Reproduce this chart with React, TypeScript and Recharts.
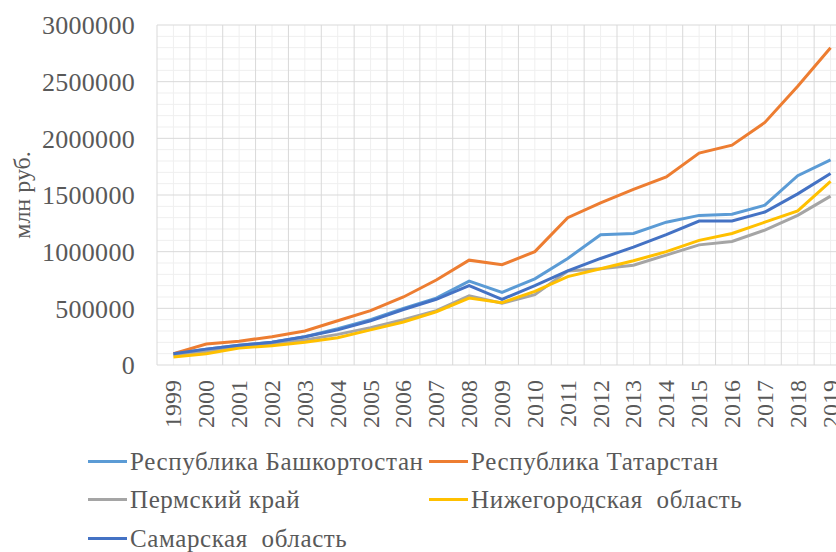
import { LineChart, Line, XAxis, YAxis, CartesianGrid, Legend, Label } from 'recharts';

const years = [1999, 2000, 2001, 2002, 2003, 2004, 2005, 2006, 2007, 2008, 2009, 2010, 2011, 2012, 2013, 2014, 2015, 2016, 2017, 2018, 2019];

const bashkortostan = [100000, 140000, 175000, 200000, 250000, 320000, 400000, 500000, 590000, 740000, 640000, 760000, 940000, 1150000, 1160000, 1260000, 1320000, 1330000, 1410000, 1670000, 1810000];
const tatarstan = [100000, 185000, 210000, 250000, 300000, 390000, 480000, 600000, 750000, 925000, 885000, 1000000, 1300000, 1430000, 1550000, 1660000, 1870000, 1940000, 2140000, 2460000, 2800000];
const perm = [90000, 120000, 160000, 180000, 220000, 270000, 330000, 400000, 480000, 610000, 545000, 620000, 830000, 850000, 880000, 970000, 1060000, 1090000, 1190000, 1320000, 1490000];
const nizhny = [70000, 100000, 150000, 170000, 200000, 240000, 310000, 380000, 470000, 590000, 550000, 650000, 780000, 850000, 920000, 1000000, 1100000, 1160000, 1260000, 1360000, 1620000];
const samara = [100000, 140000, 175000, 200000, 250000, 310000, 390000, 490000, 580000, 700000, 580000, 700000, 830000, 940000, 1040000, 1150000, 1270000, 1270000, 1350000, 1510000, 1690000];

const yTicks = [0, 500000, 1000000, 1500000, 2000000, 2500000, 3000000];

const series = [
  { key: 'bashkortostan', name: 'Республика Башкортостан', color: '#5B9BD5', values: bashkortostan },
  { key: 'tatarstan', name: 'Республика Татарстан', color: '#ED7D31', values: tatarstan },
  { key: 'perm', name: 'Пермский край', color: '#A5A5A5', values: perm },
  { key: 'nizhny', name: 'Нижегородская  область', color: '#FFC000', values: nizhny },
  { key: 'samara', name: 'Самарская  область', color: '#4472C4', values: samara },
];

const data = years.map((year, i) => {
  const row: Record<string, number> = { year };
  series.forEach((s) => {
    row[s.key] = s.values[i];
  });
  return row;
});

const FONT = 'Liberation Serif';
const TEXT = '#595959';

// grid positions (library scales turn them into pixels)
const minorY: number[] = [];
const majorY: number[] = [];
for (let v = 0; v <= 3000000; v += 100000) {
  if (v % 500000 === 0) majorY.push(v);
  else minorY.push(v);
}
const majorX = [...years.map((y) => y - 0.5), 2019.5];

const xPix = (v: number, xAxis: any, offset: any) =>
  xAxis && typeof xAxis.scale === 'function'
    ? xAxis.scale(v)
    : offset.left + ((v - 1998.5) / 21) * offset.width;
const yPix = (v: number, yAxis: any, offset: any) =>
  yAxis && typeof yAxis.scale === 'function'
    ? yAxis.scale(v)
    : offset.top + offset.height * (1 - v / 3000000);

function YearTick(props: any) {
  const { x, y, payload } = props;
  return (
    <text
      x={x}
      y={y}
      transform={`rotate(-90 ${x} ${y})`}
      textAnchor="end"
      dominantBaseline="central"
      style={{ fill: TEXT, fontFamily: FONT, fontSize: 24 }}
    >
      {payload.value}
    </text>
  );
}

function LegendBox() {
  return (
    <div
      style={{
        display: 'grid',
        gridTemplateColumns: '341px 341px',
        paddingLeft: 88,
        fontFamily: FONT,
        fontSize: 25,
        letterSpacing: 0.6,
        color: TEXT,
        lineHeight: 1,
      }}
    >
      {series.map((s) => (
        <div key={s.key} style={{ display: 'flex', alignItems: 'center', height: 38.5 }}>
          <span style={{ display: 'inline-block', width: 39, height: 3, background: s.color, marginRight: 3 }} />
          <span style={{ whiteSpace: 'pre' }}>{s.name}</span>
        </div>
      ))}
    </div>
  );
}

export default function App() {
  return (
    <div style={{ position: 'absolute', left: 0, top: 0, width: 836, height: 552, overflow: 'hidden', background: '#fff' }}>
      <LineChart width={847} height={552} data={data} margin={{ top: 25, right: 0, left: 0, bottom: 127 }}>
        <CartesianGrid
          stroke="#efefef"
          horizontalCoordinatesGenerator={({ yAxis, offset }: any) => minorY.map((v) => yPix(v, yAxis, offset))}
          verticalCoordinatesGenerator={({ xAxis, offset }: any) => years.map((v) => xPix(v, xAxis, offset))}
        />
        <CartesianGrid
          stroke="#d9d9d9"
          horizontalCoordinatesGenerator={({ yAxis, offset }: any) => majorY.map((v) => yPix(v, yAxis, offset))}
          verticalCoordinatesGenerator={({ xAxis, offset }: any) => majorX.map((v) => xPix(v, xAxis, offset))}
        />
        <XAxis
          dataKey="year"
          type="number"
          domain={[1998.5, 2019.5]}
          ticks={years}
          interval={0}
          axisLine={false}
          tickLine={false}
          tickSize={0}
          tickMargin={15}
          height={60}
          tick={<YearTick />}
        />
        <YAxis
          width={157}
          domain={[0, 3000000]}
          ticks={yTicks}
          interval={0}
          axisLine={false}
          tickLine={false}
          tickSize={0}
          tickMargin={22}
          tick={{ fill: TEXT, fontFamily: FONT, fontSize: 26, letterSpacing: 0.3 }}
        >
          <Label
            value="млн руб."
            angle={-90}
            position="insideLeft"
            offset={0}
            dx={21}
            style={{ fill: TEXT, fontFamily: FONT, fontSize: 24, textAnchor: 'middle' }}
          />
        </YAxis>
        <Legend
          layout="vertical"
          align="center"
          verticalAlign="middle"
          wrapperStyle={{ top: 442, left: 0, width: 836 }}
          content={() => <LegendBox />}
        />
        {series.map((s) => (
          <Line
            key={s.key}
            type="linear"
            dataKey={s.key}
            name={s.name}
            stroke={s.color}
            strokeWidth={3}
            dot={false}
            activeDot={false}
            isAnimationActive={false}
          />
        ))}
      </LineChart>
    </div>
  );
}
